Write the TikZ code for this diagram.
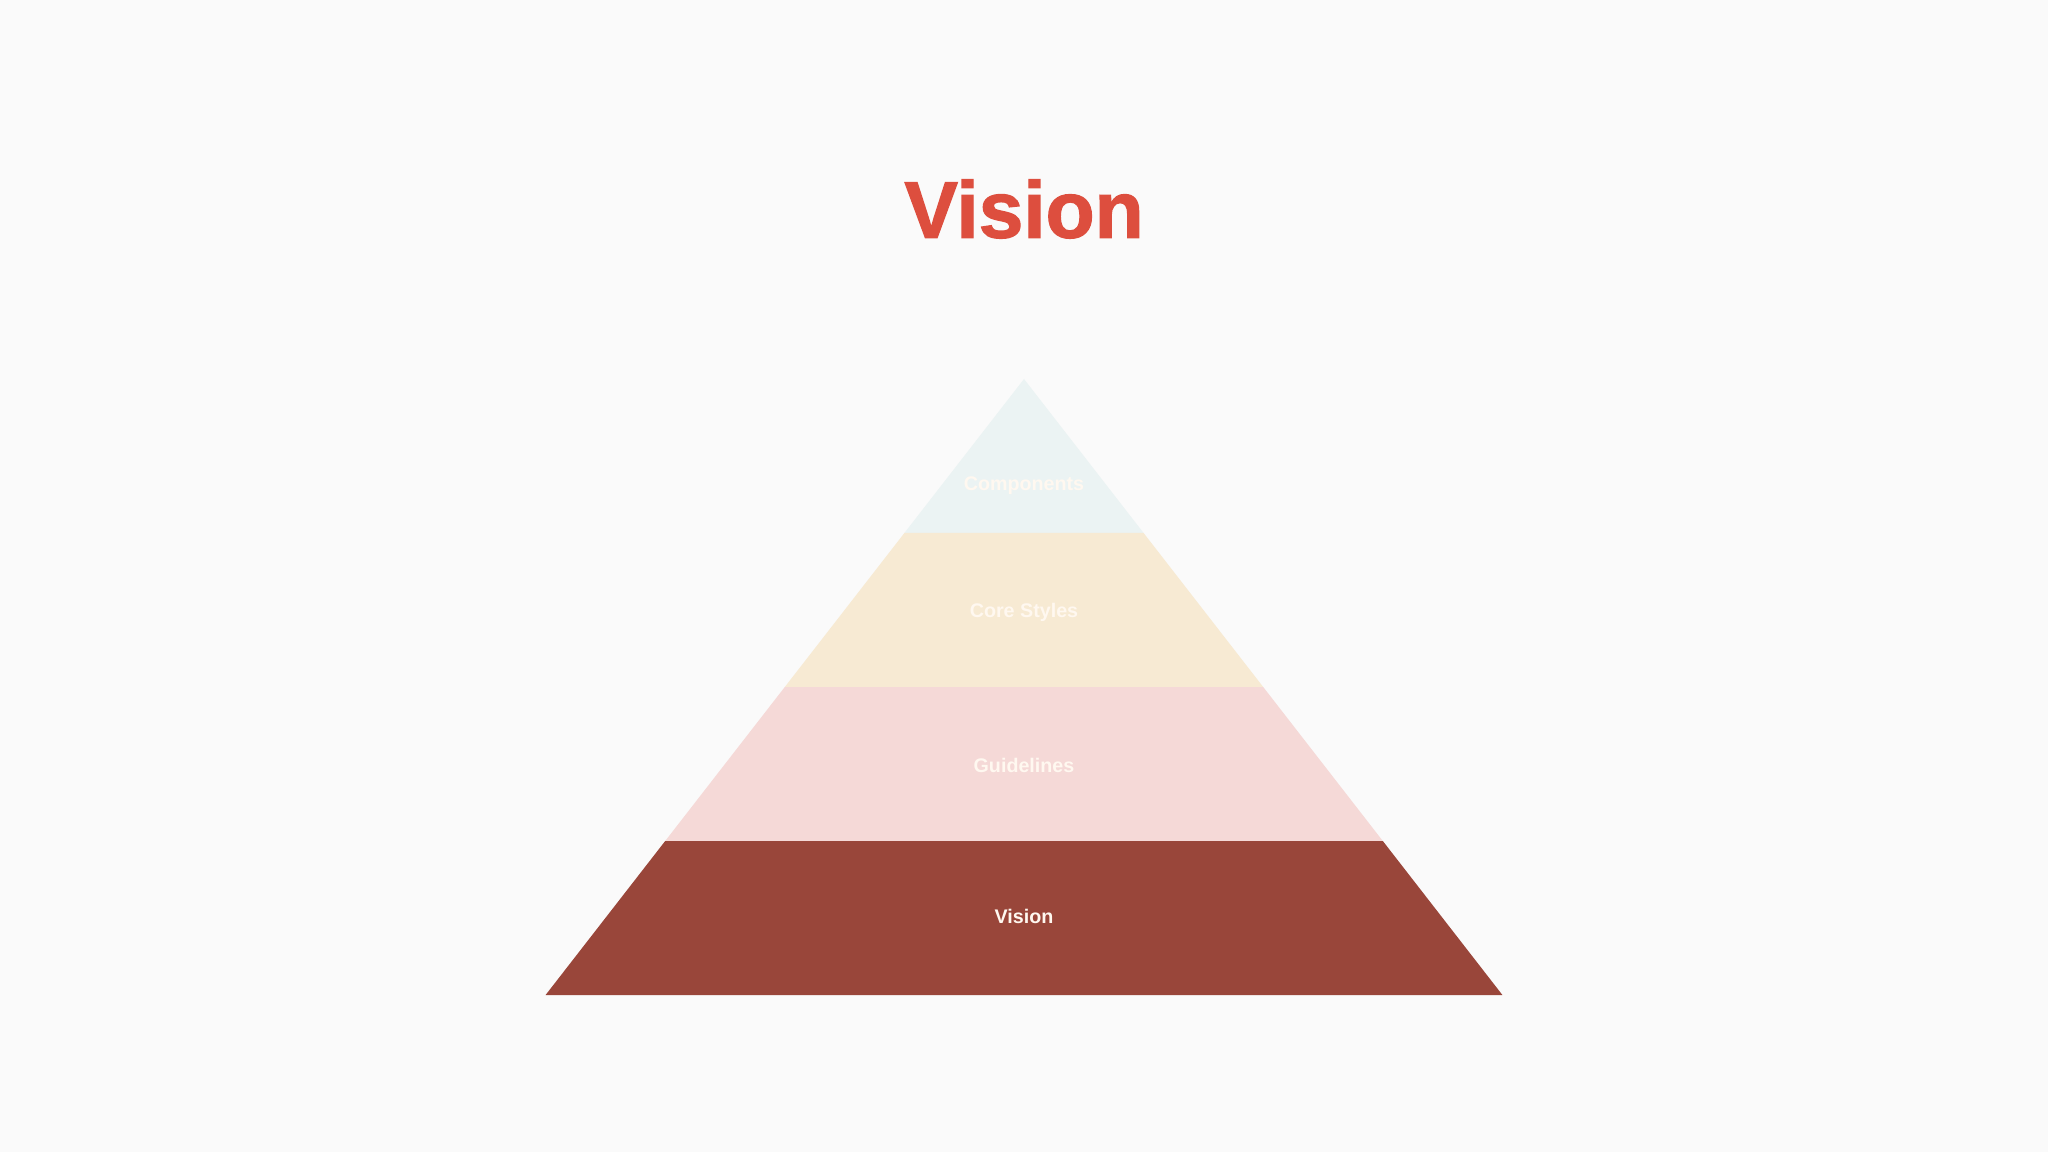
\documentclass[tikz,border=0pt]{standalone}
\usepackage{fontspec}
\setmainfont{Liberation Sans}
\newfontfamily\titlefont{Liberation Sans Bold}[FakeBold=1.6]

\definecolor{bgcol}{HTML}{FAFAFA}
\definecolor{titlecol}{HTML}{DD4E3E}
\definecolor{compcol}{HTML}{EBF3F3}
\definecolor{corecol}{HTML}{F7EAD3}
\definecolor{guidecol}{HTML}{F5D9D7}
\definecolor{visioncol}{HTML}{99463A}
\definecolor{labelcol}{HTML}{FFF8F0}

\tikzset{
  title/.style={text=titlecol,font=\titlefont\fontsize{22.8}{27}\selectfont},
  layerlabel/.style={anchor=base,text=labelcol,font=\bfseries\fontsize{5.6}{7}\selectfont}
}

\begin{document}
\begin{tikzpicture}[x=0.01cm,y=-0.01cm]
  \pgfmathsetmacro\tipx{1024}
  \pgfmathsetmacro\tipy{379}
  \pgfmathsetmacro\lh{154}     % height of one layer
  \pgfmathsetmacro\hw{119.6}   % half width gained per layer

  \fill[bgcol] (0,0) rectangle (2048,1152);

% title
  \node[title] (title) at (1024,209) {Vision};

% components (top)
  \fill[compcol] (\tipx,\tipy) -- (\tipx+\hw,\tipy+\lh) -- (\tipx-\hw,\tipy+\lh) -- cycle;
  \node[layerlabel] (components) at (\tipx,491) {Components};

% core styles
  \fill[corecol] (\tipx-\hw,\tipy+\lh) -- (\tipx+\hw,\tipy+\lh) -- (\tipx+2*\hw,\tipy+2*\lh) -- (\tipx-2*\hw,\tipy+2*\lh) -- cycle;
  \node[layerlabel] (core) at (\tipx,617) {Core Styles};

% guidelines
  \fill[guidecol] (\tipx-2*\hw,\tipy+2*\lh) -- (\tipx+2*\hw,\tipy+2*\lh) -- (\tipx+3*\hw,\tipy+3*\lh) -- (\tipx-3*\hw,\tipy+3*\lh) -- cycle;
  \node[layerlabel] (guide) at (\tipx,772) {Guidelines};

% vision (base)
  \fill[visioncol] (\tipx-3*\hw,\tipy+3*\lh) -- (\tipx+3*\hw,\tipy+3*\lh) -- (\tipx+4*\hw,\tipy+4*\lh) -- (\tipx-4*\hw,\tipy+4*\lh) -- cycle;
  \node[layerlabel] (vision) at (\tipx,923) {Vision};

\end{tikzpicture}
\end{document}
